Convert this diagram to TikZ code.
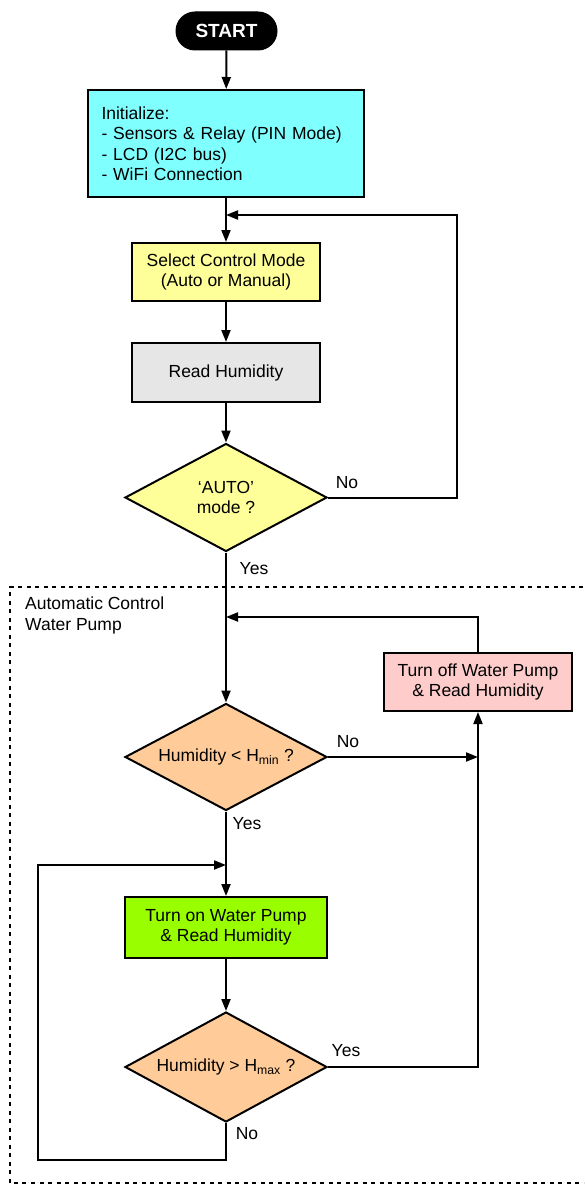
\documentclass[tikz,border=0pt]{standalone}
\usepackage{fontspec}
\setmainfont{Liberation Sans}
\usetikzlibrary{arrows.meta,shapes.geometric}
\definecolor{cInit}{HTML}{80FFFF}
\definecolor{cYel}{HTML}{FFFF99}
\definecolor{cGray}{HTML}{E6E6E6}
\definecolor{cOrange}{HTML}{FFCC99}
\definecolor{cPink}{HTML}{FFCCCC}
\definecolor{cGreen}{HTML}{99FF00}
\tikzset{
  every node/.style={font=\fontsize{17.5}{20.5}\selectfont},
  procbox/.style={draw=black, line width=2pt, rectangle, inner sep=2pt, align=center},
  decbox/.style={draw=black, line width=2pt, diamond, aspect=1.89, inner sep=0pt, align=center, minimum width=202pt, minimum height=107pt, fill=cOrange},
  conn/.style={line width=2pt, -{Triangle[length=12pt,width=9pt]}},
  lbl/.style={inner sep=0pt}
}
\begin{document}
\begin{tikzpicture}[x=1pt,y=-1pt]
\clip (0,0) rectangle (584,1185);
\fill[white] (0,0) rectangle (584,1185);
% dotted region
\draw[line width=1.6pt, dash pattern=on 4pt off 4.5pt] (600,587) -- (10,587) -- (10,1183) -- (600,1183);
\node[lbl, anchor=north west, align=left] (grp) at (25,597) {Automatic Control\\Water Pump};

\node[draw=black, fill=black, line width=1pt, rounded corners=19pt, minimum width=101pt, minimum height=38pt, text=white, font=\fontsize{19}{20}\selectfont\bfseries] (start) at (226.5,31) {START};
\node[procbox, fill=cInit, minimum width=276pt, minimum height=107pt, text width=249pt, align=left] (init) at (226,143.5) {Initialize:\\- Sensors \& Relay (PIN Mode)\\- LCD (I2C bus)\\- WiFi Connection};
\node[procbox, fill=cYel, minimum width=188pt, minimum height=58pt] (sel) at (226,272) {Select Control Mode\\(Auto or Manual)};
\node[procbox, fill=cGray, minimum width=188pt, minimum height=59pt] (read) at (226,372.5) {Read Humidity};
\node[decbox, fill=cYel, minimum height=108pt] (auto) at (226,497.5) {`AUTO'\\mode ?};
\node[decbox] (hmin) at (226,757) {Humidity \textless{} H\textsubscript{min} ?};
\node[procbox, fill=cPink, minimum width=188pt, minimum height=58pt] (off) at (478,682) {Turn off Water Pump\\\& Read Humidity};
\node[procbox, fill=cGreen, minimum width=202pt, minimum height=61pt] (on) at (226,927.5) {Turn on Water Pump\\\& Read Humidity};
\node[decbox, minimum height=110pt] (hmax) at (226,1067) {Humidity \textgreater{} H\textsubscript{max} ?};

\coordinate (j1) at (226,215);
\coordinate (j2) at (226,617);
\coordinate (j3) at (478,757);
\coordinate (j4) at (226,865);
\coordinate (c1) at (457,497.5);
\coordinate (c2) at (226,1160);
\coordinate (c3) at (38,1160);

\draw[conn] (start) -- (init);
\draw[conn] (init) -- (sel);
\draw[conn] (sel) -- (read);
\draw[conn] (read) -- (auto);
\draw[conn] (auto.east) -- (c1) |- (j1);
\draw[conn] (auto.south) -- (hmin.north);
\draw[conn] (off.north) |- (j2);
\draw[conn] (hmin.east) -- (j3);
\draw[conn] (hmin.south) -- (on.north);
\draw[conn] (on.south) -- (hmax.north);
\draw[conn] (hmax.east) -| (off.south);
\draw[conn] (hmax.south) -- (c2) -- (c3) |- (j4);

\node[lbl] (l1) at (347,483) {No};
\node[lbl] (l2) at (254,569) {Yes};
\node[lbl] (l3) at (348,742) {No};
\node[lbl] (l4) at (247,824) {Yes};
\node[lbl] (l5) at (346,1051) {Yes};
\node[lbl] (l6) at (247,1134) {No};
\end{tikzpicture}
\end{document}
